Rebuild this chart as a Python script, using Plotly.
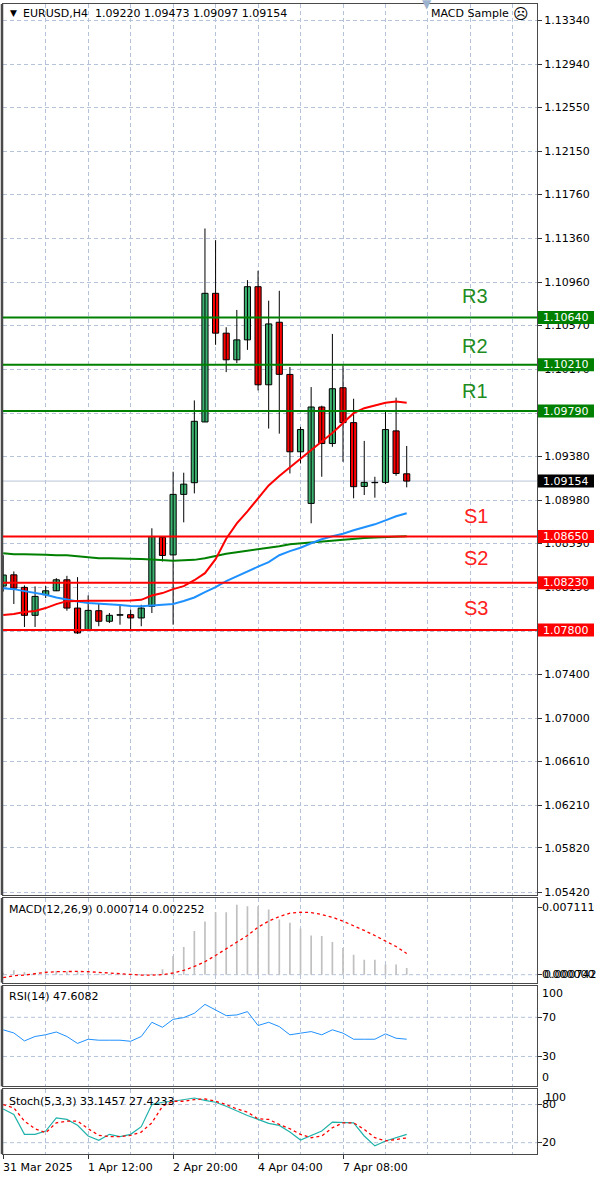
import plotly.graph_objects as go

# ---------------- data ----------------
bar_index = list(range(39))
opens = [1.08200, 1.08302, 1.08188, 1.07934, 1.08121, 1.08157, 1.08257, 1.08000, 1.07804, 1.07976,
         1.07880, 1.07935, 1.07940, 1.07910, 1.08016, 1.08643, 1.08483, 1.09033, 1.09139, 1.09691,
         1.10860, 1.10498, 1.10256, 1.10437, 1.10920, 1.10029, 1.10597, 1.10123, 1.09420, 1.08951,
         1.09827, 1.09495, 1.10002, 1.09685, 1.09105, 1.09139, 1.09142, 1.09610, 1.09220]
highs = [1.08480, 1.08333, 1.08206, 1.08197, 1.08200, 1.08272, 1.08293, 1.08281, 1.08115, 1.08037,
         1.07955, 1.08030, 1.07985, 1.08030, 1.08725, 1.08650, 1.09239, 1.09230, 1.09887, 1.11449,
         1.11343, 1.10552, 1.10709, 1.10980, 1.11065, 1.10793, 1.10883, 1.10190, 1.09646, 1.10008,
         1.09839, 1.10491, 1.10204, 1.09902, 1.09519, 1.09193, 1.09796, 1.09912, 1.09473]
lows = [1.08150, 1.08037, 1.07828, 1.07828, 1.08091, 1.08154, 1.07976, 1.07765, 1.07800, 1.07835,
        1.07864, 1.07849, 1.07789, 1.07835, 1.07955, 1.08423, 1.07849, 1.08779, 1.09042, 1.09691,
        1.10392, 1.10144, 1.10226, 1.10346, 1.09978, 1.09631, 1.09585, 1.09223, 1.09314, 1.08770,
        1.09193, 1.09465, 1.09329, 1.08997, 1.09027, 1.09003, 1.09126, 1.09202, 1.09097]
closes = [1.08300, 1.08181, 1.07934, 1.08106, 1.08157, 1.08257, 1.08000, 1.07774, 1.07979, 1.07880,
          1.07934, 1.07940, 1.07910, 1.08000, 1.08650, 1.08478, 1.09033, 1.09126, 1.09697, 1.10860,
          1.10498, 1.10256, 1.10437, 1.10920, 1.10029, 1.10582, 1.10124, 1.09420, 1.09622, 1.09827,
          1.09495, 1.09993, 1.09685, 1.09103, 1.09142, 1.09142, 1.09622, 1.09223, 1.09154]

ma_red = [1.07937, 1.07946, 1.07965, 1.07974, 1.08000, 1.08036, 1.08063, 1.08067, 1.08067, 1.08067,
          1.08067, 1.08067, 1.08068, 1.08075, 1.08114, 1.08136, 1.08172, 1.08199, 1.08253, 1.08317,
          1.08444, 1.08630, 1.08770, 1.08879, 1.08997, 1.09114, 1.09200, 1.09280, 1.09359, 1.09441,
          1.09513, 1.09590, 1.09685, 1.09771, 1.09816, 1.09844, 1.09866, 1.09877, 1.09866]
ma_blue = [1.08181, 1.08172, 1.08154, 1.08136, 1.08121, 1.08096, 1.08076, 1.08059, 1.08046, 1.08041,
           1.08037, 1.08028, 1.08019, 1.08016, 1.08023, 1.08028, 1.08037, 1.08064, 1.08096, 1.08145,
           1.08191, 1.08245, 1.08291, 1.08336, 1.08376, 1.08417, 1.08480, 1.08517, 1.08548, 1.08589,
           1.08625, 1.08653, 1.08675, 1.08707, 1.08734, 1.08761, 1.08797, 1.08834, 1.08861]
ma_green = [1.08499, 1.08490, 1.08490, 1.08490, 1.08485, 1.08479, 1.08479, 1.08471, 1.08462, 1.08453,
            1.08453, 1.08453, 1.08447, 1.08447, 1.08442, 1.08435, 1.08430, 1.08435, 1.08438, 1.08453,
            1.08476, 1.08494, 1.08508, 1.08521, 1.08530, 1.08544, 1.08562, 1.08580, 1.08589, 1.08598,
            1.08607, 1.08616, 1.08625, 1.08632, 1.08637, 1.08642, 1.08646, 1.08650, 1.08653]

macd_main = [0.00020, 0.00046, 0.00028, 0.00021, 0.00039, 0.00039, 0.00035, 0.00032, 0.00028, 0.00011,
             0.00007, 0.00004, 0.00004, 0.00004, 0.00011, 0.00057, 0.00198, 0.00294, 0.00464, 0.00566,
             0.00665, 0.00665, 0.00746, 0.00729, 0.00729, 0.00693, 0.00587, 0.00552, 0.00491, 0.00417,
             0.00411, 0.00347, 0.00283, 0.00212, 0.00159, 0.00159, 0.00109, 0.00109, 0.000714]
macd_signal = [-0.00032, -0.00011, -0.00004, 0.00011, 0.00025, 0.00032, 0.00035, 0.00035, 0.00032, 0.00025,
               0.00018, 0.00007, 0.00000, -0.00004, -0.00004, 0.00000, 0.00018, 0.00046, 0.00088, 0.00138,
               0.00205, 0.00276, 0.00347, 0.00417, 0.00506, 0.00570, 0.00619, 0.00655, 0.00665, 0.00662,
               0.00640, 0.00612, 0.00570, 0.00524, 0.00471, 0.00417, 0.00354, 0.00300, 0.002252]

rsi = [57.2, 54.0, 45.9, 50.4, 52.2, 55.0, 50.4, 43.3, 47.6, 46.6,
       46.6, 46.6, 45.5, 50.4, 64.9, 59.8, 67.9, 69.7, 74.1, 83.2,
       77.5, 71.7, 72.4, 75.8, 61.6, 64.9, 60.5, 52.1, 53.8, 55.4,
       52.1, 57.2, 53.8, 47.6, 47.6, 47.6, 53.1, 48.6, 47.6082]

stoch_k = [73.1, 64.5, 33.1, 33.1, 38.3, 59.1, 56.6, 47.3, 30.5, 23.7,
           33.1, 29.4, 33.1, 45.1, 80.0, 83.6, 85.2, 87.8, 90.3, 86.7,
           83.6, 77.3, 69.5, 62.8, 56.6, 50.3, 47.2, 36.7, 24.2, 31.5,
           38.3, 52.3, 52.3, 51.3, 30.5, 14.9, 22.7, 28.0, 33.1457]
stoch_d = [80.0, 74.7, 53.9, 41.9, 35.6, 51.3, 53.9, 53.9, 41.9, 31.6,
           29.4, 29.4, 31.6, 36.7, 51.3, 77.4, 85.2, 85.2, 87.8, 88.8,
           85.2, 80.0, 73.1, 68.0, 57.5, 56.6, 48.7, 41.9, 33.1, 27.8,
           30.5, 43.5, 51.3, 51.3, 40.9, 27.8, 22.7, 25.3, 27.4233]

price_ticks = [1.05420, 1.05820, 1.06210, 1.06610, 1.07000, 1.07400, 1.07790, 1.08190, 1.08590, 1.08980,
               1.09380, 1.09770, 1.10170, 1.10570, 1.10960, 1.11360, 1.11760, 1.12150, 1.12550, 1.12940,
               1.13340]
x_tick_idx = [0, 8, 16, 24, 32]
x_tick_labels = ["31 Mar 2025", "1 Apr 12:00", "2 Apr 20:00", "4 Apr 04:00", "7 Apr 08:00"]

resistance_levels = [1.10640, 1.10210, 1.09790]
resistance_names = ["R3", "R2", "R1"]
support_levels = [1.08650, 1.08230, 1.07800]
support_names = ["S1", "S2", "S3"]
last_price = 1.09154

header_text = "EURUSD,H4  1.09220 1.09473 1.09097 1.09154"
macd_text = "MACD(12,26,9) 0.000714 0.002252"
rsi_text = "RSI(14) 47.6082"
stoch_text = "Stoch(5,3,3) 33.1457 27.4233"

# ---------------- styling ----------------
W, H = 600, 1187
FONT = "DejaVu Sans"
GRID = "#B4C3DA"
GDASH = "4px,3px"
FRAME = "#4a4a4a"
GREEN_BODY = "#3CB371"
RED = "#FF0000"
LVL_GREEN = "#008000"


def py(px):
    return 1 - px / H


XD = [3 / W, 537 / W]
Y_MAIN = [py(898), py(4)]
Y_MACD = [py(986), py(901)]
Y_RSI = [py(1090), py(989)]
Y_STO = [py(1158), py(1093)]
XR = [-0.02, 50.27]

fig = go.Figure()

# wicks
wx, wy = [], []
for i, h, l in zip(bar_index, highs, lows):
    wx += [i, i, None]
    wy += [l, h, None]
fig.add_trace(go.Scatter(x=wx, y=wy, mode="lines", line=dict(color="black", width=1),
                         hoverinfo="skip", xaxis="x", yaxis="y"))

# bodies
MIN_BODY = 0.00002
for up, col in [(True, GREEN_BODY), (False, RED)]:
    bx, bb, bh = [], [], []
    for i, o, c in zip(bar_index, opens, closes):
        if (c >= o) == up:
            bx.append(i)
            bb.append(min(o, c))
            bh.append(max(abs(c - o), MIN_BODY))
    fig.add_trace(go.Bar(x=bx, y=bh, base=bb, width=0.58, marker=dict(color=col, line=dict(color="black", width=1)),
                         xaxis="x", yaxis="y", hoverinfo="skip"))

# moving averages
fig.add_trace(go.Scatter(x=bar_index, y=ma_green, mode="lines", line=dict(color="#008000", width=2),
                         xaxis="x", yaxis="y"))
fig.add_trace(go.Scatter(x=bar_index, y=ma_blue, mode="lines", line=dict(color="#1E90FF", width=2),
                         xaxis="x", yaxis="y"))
fig.add_trace(go.Scatter(x=bar_index, y=ma_red, mode="lines", line=dict(color=RED, width=2),
                         xaxis="x", yaxis="y"))

# MACD
fig.add_trace(go.Bar(x=bar_index, y=macd_main, width=0.16, marker=dict(color="#C0C0C0", line=dict(width=0)),
                     xaxis="x2", yaxis="y2"))
fig.add_trace(go.Scatter(x=bar_index, y=macd_signal, mode="lines",
                         line=dict(color=RED, width=1.3, dash="3px,3px"), xaxis="x2", yaxis="y2"))
# RSI
fig.add_trace(go.Scatter(x=bar_index, y=rsi, mode="lines", line=dict(color="#1E90FF", width=1),
                         xaxis="x3", yaxis="y3"))
# Stochastic
fig.add_trace(go.Scatter(x=bar_index, y=stoch_k, mode="lines", line=dict(color="#20B2AA", width=1.2),
                         xaxis="x4", yaxis="y4"))
fig.add_trace(go.Scatter(x=bar_index, y=stoch_d, mode="lines", line=dict(color=RED, width=1.3, dash="3px,3px"),
                         xaxis="x4", yaxis="y4"))

grid_x = list(range(4, 50, 4))


def xaxis_common(anchor):
    return dict(domain=XD, range=XR, anchor=anchor, tickvals=grid_x, showticklabels=False, ticks="",
                showgrid=True, gridcolor=GRID, griddash=GDASH, gridwidth=1, zeroline=False,
                showline=True, mirror=True, linecolor=FRAME, linewidth=1, fixedrange=True)


def yaxis_sub(domain, rng, anchor, tickvals):
    return dict(domain=domain, range=rng, anchor=anchor, side="right", tickvals=tickvals,
                showticklabels=False, ticks="outside", ticklen=4, tickcolor="#333",
                showgrid=False, zeroline=False, showline=True, mirror=True, linecolor=FRAME, linewidth=1)


x4 = xaxis_common("y4")
x4.update(tickvals=x_tick_idx, ticks="outside", ticklen=4, tickcolor="#333", showgrid=True,
          minor=dict(tickvals=[v for v in grid_x if v not in x_tick_idx], showgrid=True, gridcolor=GRID,
                     griddash=GDASH, gridwidth=1, ticks=""))

fig.update_layout(
    width=W, height=H, margin=dict(l=0, r=0, t=0, b=0),
    paper_bgcolor="white", plot_bgcolor="white", showlegend=False, barmode="overlay",
    font=dict(family=FONT, size=11, color="black"),
    xaxis=xaxis_common("y"),
    xaxis2=xaxis_common("y2"),
    xaxis3=xaxis_common("y3"),
    xaxis4=x4,
    yaxis=dict(domain=Y_MAIN, range=[1.05393, 1.13489], anchor="x", side="right",
               tickvals=price_ticks, ticktext=[f"{v:.5f}" for v in price_ticks],
               ticks="outside", ticklen=4, tickcolor="#333", tickfont=dict(family=FONT, size=11, color="black"),
               showgrid=True, gridcolor=GRID, griddash=GDASH, gridwidth=1, zeroline=False,
               showline=True, mirror=True, linecolor=FRAME, linewidth=1),
    yaxis2=yaxis_sub(Y_MACD, [-0.00085, 0.00817], "x2", [0.007111, 0]),
    yaxis3=yaxis_sub(Y_RSI, [-0.5, 102.3], "x3", [70, 30]),
    yaxis4=yaxis_sub(Y_STO, [2.0, 104.0], "x4", [80, 20]),
)

shapes = []
ann = []

# sub-panel horizontal dashed levels
for yref, vals in [("y2", [0]), ("y3", [70, 30]), ("y4", [80, 20])]:
    for v in vals:
        shapes.append(dict(type="line", xref=yref.replace("y", "x") + " domain", x0=0, x1=1, yref=yref, y0=v, y1=v,
                           line=dict(color=GRID, width=1, dash=GDASH), layer="below"))

# thicker left frame edges
for d in [Y_MAIN, Y_MACD, Y_RSI, Y_STO]:
    shapes.append(dict(type="line", xref="paper", yref="paper", x0=2 / W, x1=2 / W, y0=d[0], y1=d[1],
                       line=dict(color=FRAME, width=2.5), layer="above"))

# current price line
shapes.append(dict(type="line", xref="x domain", x0=0, x1=1, yref="y", y0=last_price, y1=last_price,
                   line=dict(color="#B8C4D8", width=1), layer="below"))

label_shift_r = [22, 19, 20]
label_shift_s = [21, 25, 22]
for lvl, name, sh in zip(resistance_levels, resistance_names, label_shift_r):
    shapes.append(dict(type="line", xref="x domain", x0=0, x1=1, yref="y", y0=lvl, y1=lvl,
                       line=dict(color=LVL_GREEN, width=2), layer="above"))
    ann.append(dict(xref="paper", yref="y", x=490 / W, y=lvl, yshift=sh, text=name, showarrow=False,
                    font=dict(family="Liberation Sans", size=20, color="#1E8C1E")))
for lvl, name, sh in zip(support_levels, support_names, label_shift_s):
    shapes.append(dict(type="line", xref="x domain", x0=0, x1=1, yref="y", y0=lvl, y1=lvl,
                       line=dict(color=RED, width=2), layer="above"))
    ann.append(dict(xref="paper", yref="y", x=490 / W, y=lvl, yshift=sh, text=name, showarrow=False,
                    font=dict(family="Liberation Sans", size=20, color="#FF2020")))

# price boxes on the right axis
for lvl, col in [(v, LVL_GREEN) for v in resistance_levels] + [(v, RED) for v in support_levels] + [(last_price, "black")]:
    shapes.append(dict(type="rect", xref="paper", x0=538 / W, x1=594 / W, yref="y", ysizemode="pixel",
                       yanchor=lvl, y0=-6.5, y1=6.5, fillcolor=col, line=dict(width=0), layer="above"))
    ann.append(dict(xref="paper", yref="y", x=566 / W, y=lvl, text=f"{lvl:.5f}", showarrow=False,
                    xanchor="center", yanchor="middle", font=dict(family=FONT, size=11, color="white")))

# header texts
ann.append(dict(xref="paper", yref="paper", x=8 / W, y=py(13), text="▼", showarrow=False, xanchor="left",
                yanchor="middle", font=dict(family=FONT, size=9, color="black")))
ann.append(dict(xref="paper", yref="paper", x=21 / W, y=py(14), text=header_text, showarrow=False, xanchor="left",
                yanchor="middle", font=dict(family=FONT, size=11, color="black")))
ann.append(dict(xref="paper", yref="paper", x=427 / W, y=py(4), text="▼", showarrow=False, xanchor="center",
                yanchor="middle", font=dict(family=FONT, size=12, color="#9DB2CE")))
ann.append(dict(xref="paper", yref="paper", x=429 / W, y=py(14), text="MACD Sample", showarrow=False, xanchor="left",
                yanchor="middle", font=dict(family=FONT, size=11, color="black")))
ann.append(dict(xref="paper", yref="paper", x=521 / W, y=py(14), text="☹", showarrow=False, xanchor="center",
                yanchor="middle", font=dict(family=FONT, size=15, color="black")))

# sub panel titles
for txt, ypx in [(macd_text, 913), (rsi_text, 1000), (stoch_text, 1105)]:
    ann.append(dict(xref="paper", yref="paper", x=7 / W, y=py(ypx), text=txt, showarrow=False, xanchor="left",
                    yanchor="middle", font=dict(family=FONT, size=11, color="black")))

# sub panel axis labels (value, text, x offset px, y offset px downward)
sub_labels = [("y2", 0.007111, "0.007111", 0, 0), ("y2", 0, "0.000000", 0, 0), ("y2", 0, "0.000742", 2, 0),
              ("y3", 100, "100", 0, 6), ("y3", 70, "70", 0, 0), ("y3", 30, "30", 0, 0), ("y3", 0, "0", 0, -8),
              ("y4", 100, "100", 3, 6), ("y4", 80, "80", 0, 0), ("y4", 20, "20", 0, 0), ("y4", 0, "0", 0, -9)]
for yref, v, txt, xs, ys in sub_labels:
    ann.append(dict(xref="paper", yref=yref, x=540 / W, y=v, xshift=xs, yshift=-ys, text=txt, showarrow=False,
                    xanchor="left", yanchor="middle", font=dict(family=FONT, size=11, color="black")))

# time labels
for i, txt in zip(x_tick_idx, x_tick_labels):
    ann.append(dict(xref="x4", yref="paper", x=i, y=py(1171), text=txt, showarrow=False, xanchor="left",
                    xshift=-2, yanchor="middle", font=dict(family=FONT, size=11, color="black")))

fig.update_layout(shapes=shapes, annotations=ann)
fig.write_html("out.html", config={"displayModeBar": False, "staticPlot": True},
               post_script="document.body.style.margin='0';document.body.style.overflow='hidden';")
